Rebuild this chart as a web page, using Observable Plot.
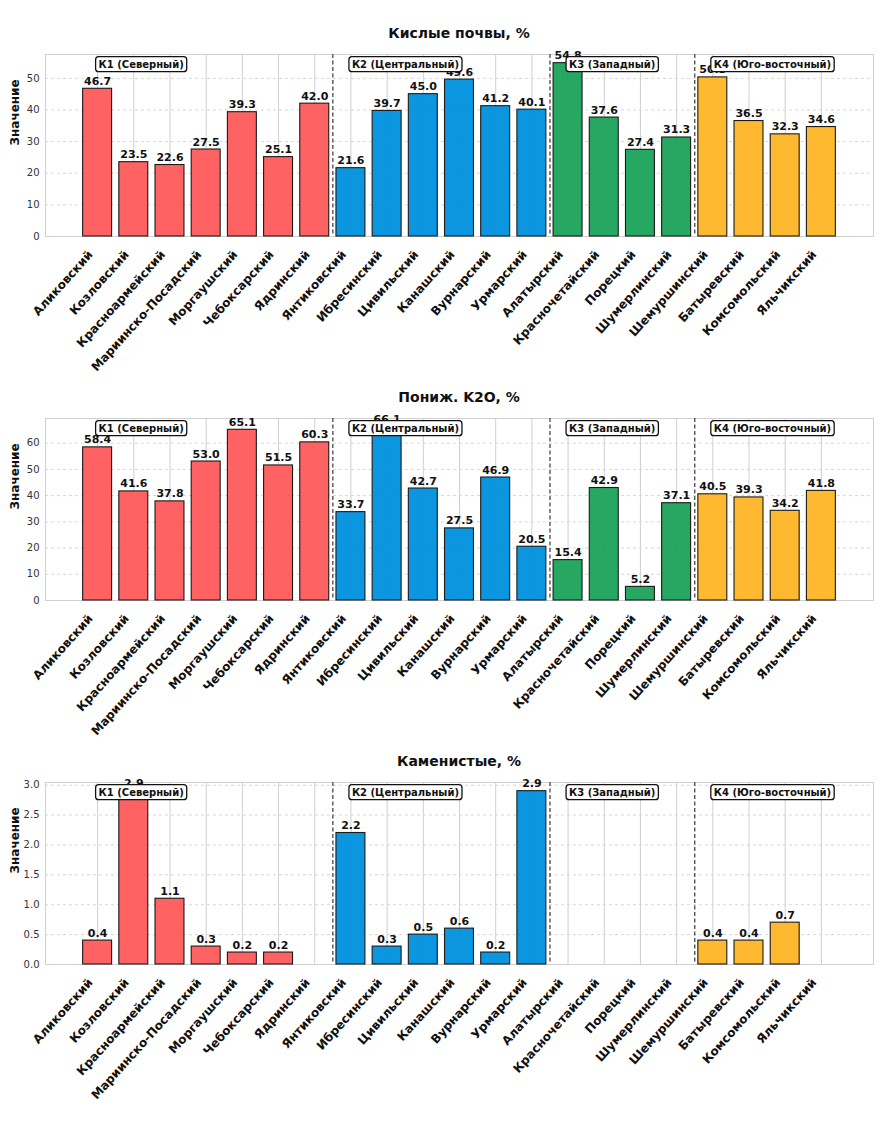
<!DOCTYPE html>
<html>
<head>
<meta charset="utf-8">
<script src="https://cdn.jsdelivr.net/npm/d3@7"></script>
<script src="https://cdn.jsdelivr.net/npm/@observablehq/plot@0.6"></script>
<style>
  body { margin: 0; background: #fff; font-family: "DejaVu Sans", sans-serif; }
  #root { width: 885px; padding-top: 22px; }
  .title { height: 22px; line-height: 22px; font-weight: bold; font-size: 14px; text-align: center;
           padding-left: 45px; padding-right: 12px; color: #111; }
  svg { display: block; }
</style>
</head>
<body>
<div id="root"></div>
<script>
const districts = ["Аликовский","Козловский","Красноармейский","Мариинско-Посадский","Моргаушский","Чебоксарский","Ядринский",
  "Янтиковский","Ибресинский","Цивильский","Канашский","Вурнарский","Урмарский",
  "Алатырский","Красночетайский","Порецкий","Шумерлинский",
  "Шемуршинский","Батыревский","Комсомольский","Яльчикский"];
const clusterNames = ["К1 (Северный)","К2 (Центральный)","К3 (Западный)","К4 (Юго-восточный)"];
const clusterStarts = [0, 7, 13, 17];
const clusterColors = ["#FF5A5A","#0090DE","#1BA35A","#FFB526"];
const districtCluster = [0,0,0,0,0,0,0, 1,1,1,1,1,1, 2,2,2,2, 3,3,3,3];

const acidValues = [46.7,23.5,22.6,27.5,39.3,25.1,42.0, 21.6,39.7,45.0,49.6,41.2,40.1, 54.8,37.6,27.4,31.3, 50.3,36.5,32.3,34.6];
const k2oValues  = [58.4,41.6,37.8,53.0,65.1,51.5,60.3, 33.7,66.1,42.7,27.5,46.9,20.5, 15.4,42.9,5.2,37.1, 40.5,39.3,34.2,41.8];
const stoneValues = [0.4,2.9,1.1,0.3,0.2,0.2,0.0, 2.2,0.3,0.5,0.6,0.2,2.9, 0,0,0,0, 0.4,0.4,0.7,0.0];

const panelTitles = ["Кислые почвы, %","Пониж. K2O, %","Каменистые, %"];
const panelTicks = [[0,10,20,30,40,50],[0,10,20,30,40,50,60],[0,0.5,1,1.5,2,2.5,3]];
const panelFormats = [d3.format("d"), d3.format("d"), d3.format(".1f")];
const yLabel = "Значение";

const panels = [acidValues, k2oValues, stoneValues];
const root = document.getElementById("root");

panels.forEach((values, p) => {
  const rows = values.map((v, i) => ({i, name: districts[i], v, cluster: clusterNames[districtCluster[i]]}));
  const ymax = d3.max(values) * 1.05;
  const idx = d3.range(districts.length);
  const seps = clusterStarts.slice(1).map(s => s - 0.5);
  const clusterRows = clusterNames.map((c, k) => ({c, x: clusterStarts[k]}));

  const t = document.createElement("div");
  t.className = "title";
  t.textContent = panelTitles[p];
  root.appendChild(t);

  const svg = Plot.plot({
    width: 885, height: 342,
    marginTop: 10, marginBottom: 150, marginLeft: 45, marginRight: 12,
    style: {fontFamily: "DejaVu Sans, sans-serif", fontSize: "10px", color: "#222", background: "#fff"},
    x: {type: "linear", domain: [-1.44, 21.44], axis: null},
    y: {domain: [0, ymax], axis: null},
    color: {domain: clusterNames, range: clusterColors},
    marks: [
      Plot.gridX(idx, {stroke: "#cfcfcf", strokeOpacity: 1, strokeWidth: 1}),
      Plot.gridY(panelTicks[p], {stroke: "#d8d8d8", strokeOpacity: 1, strokeDasharray: "3,3"}),
      Plot.frame({stroke: "#d0d0d0"}),
      Plot.rectY(rows, {x1: d => d.i - 0.4, x2: d => d.i + 0.4, y1: 0, y2: "v", fill: "cluster",
        fillOpacity: 0.95, stroke: "#1a1a1a", strokeWidth: 1.1}),
      Plot.ruleX(seps, {stroke: "#555", strokeWidth: 1.4, strokeDasharray: "4,2.5"}),
      Plot.text(rows.filter(d => d.v > 0), {x: "i", y: "v", text: d => d.v.toFixed(1), dy: -4,
        lineAnchor: "bottom", fontWeight: "bold", fontSize: 11, fill: "#111"}),
      Plot.text(clusterRows, {x: "x", y: () => ymax, text: "c", textAnchor: "start", dx: 1, dy: 10,
        lineAnchor: "middle", fontWeight: "bold", fontSize: 10, fill: "#111"}),
      Plot.axisX(idx, {tickFormat: i => districts[i], tickRotate: -48, tickSize: 0, tickPadding: 7,
        fontWeight: "bold", fontSize: 12, fill: "#111"}),
      Plot.axisY(panelTicks[p], {tickFormat: panelFormats[p], tickSize: 0, tickPadding: 6, label: null,
        fontSize: 10, fill: "#333"}),
      Plot.text([yLabel], {frameAnchor: "left", text: d => d, rotate: -90, dx: -30,
        fontWeight: "bold", fontSize: 12, fill: "#111"})
    ]
  });
  root.appendChild(svg);

  // shift rotated tick labels so their rotated box ends at the tick, as in the reference
  d3.select(svg).selectAll('g[aria-label="x-axis tick label"]').each(function() {
    const tr = this.getAttribute("transform") || "";
    this.setAttribute("transform", `translate(-7,9) ${tr}`);
  });

  // rounded boxes behind cluster labels
  d3.select(svg).selectAll("text").each(function() {
    if (!clusterNames.includes(this.textContent)) return;
    const b = this.getBBox();
    const r = document.createElementNS("http://www.w3.org/2000/svg", "rect");
    r.setAttribute("x", b.x - 3);
    r.setAttribute("y", b.y - 2);
    r.setAttribute("width", b.width + 6);
    r.setAttribute("height", b.height + 4);
    r.setAttribute("rx", 3);
    r.setAttribute("fill", "#fff");
    r.setAttribute("stroke", "#111");
    r.setAttribute("stroke-width", 1.3);
    const tr = this.getAttribute("transform");
    if (tr) r.setAttribute("transform", tr);
    this.parentNode.insertBefore(r, this);
  });
});
</script>
</body>
</html>
